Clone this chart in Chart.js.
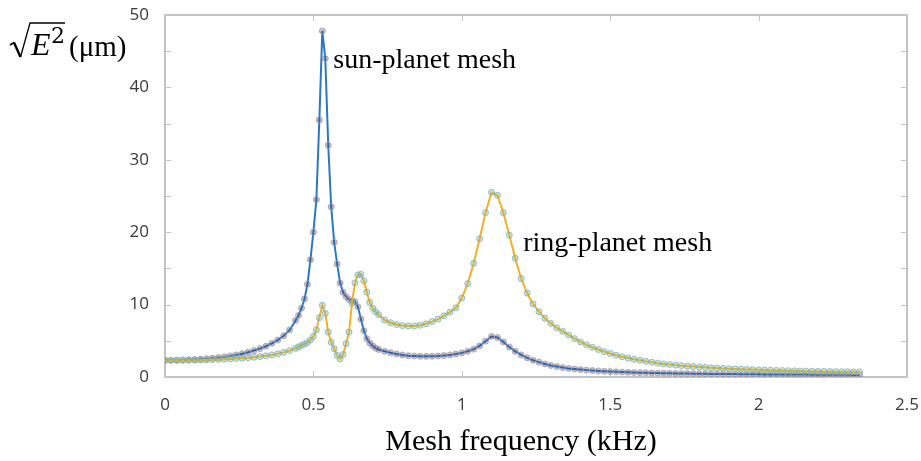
<!DOCTYPE html>
<html>
<head>
<meta charset="utf-8">
<script src="https://cdn.jsdelivr.net/npm/chart.js@4/dist/chart.umd.min.js"></script>
<style>
  html, body { margin: 0; padding: 0; background: #fff; }
  #wrap { width: 921px; height: 461px; position: relative; }
</style>
</head>
<body>
<div id="wrap"><canvas id="c"></canvas></div>
<script>
// frequenze (kHz): passo 0.02, più fitto (0.01) attorno ai picchi stretti
const freq = [
  0, 0.02, 0.04, 0.06, 0.08, 0.1, 0.12, 0.14, 0.16, 0.18, 0.2, 0.22, 0.24, 0.26, 0.28, 0.3, 0.32, 0.34, 0.36, 0.38, 0.4, 0.42, 0.44,
  0.45, 0.46, 0.47, 0.48, 0.49, 0.5, 0.51, 0.52, 0.53, 0.54, 0.55, 0.56, 0.57, 0.58, 0.59, 0.6, 0.61, 0.62, 0.63, 0.64, 0.65, 0.66, 0.67, 0.68, 0.69, 0.7, 0.71, 0.72,
  0.74, 0.76, 0.78, 0.8, 0.82, 0.84, 0.86, 0.88, 0.9, 0.92, 0.94, 0.96, 0.98, 1, 1.02, 1.04, 1.06, 1.08, 1.1, 1.12,
  1.14, 1.16, 1.18, 1.2, 1.22, 1.24, 1.26, 1.28, 1.3, 1.32, 1.34, 1.36, 1.38, 1.4, 1.42, 1.44, 1.46, 1.48, 1.5, 1.52,
  1.54, 1.56, 1.58, 1.6, 1.62, 1.64, 1.66, 1.68, 1.7, 1.72, 1.74, 1.76, 1.78, 1.8, 1.82, 1.84, 1.86, 1.88, 1.9, 1.92,
  1.94, 1.96, 1.98, 2, 2.02, 2.04, 2.06, 2.08, 2.1, 2.12, 2.14, 2.16, 2.18, 2.2, 2.22, 2.24, 2.26, 2.28, 2.3, 2.32, 2.34
];

// sun-planet mesh (µm)
const sunPlanet = [
  2.3, 2.3, 2.32, 2.35, 2.38, 2.42, 2.47, 2.53, 2.6, 2.68, 2.78, 2.9, 3.05, 3.22, 3.42, 3.65, 3.92, 4.25, 4.65, 5.1, 5.7, 6.5, 7.8,
  8.5, 9.5, 10.8, 12.8, 16.2, 20.0, 24.5, 35.5, 47.8, 44.0, 32.0, 23.5, 18.6, 15.6, 13.0, 11.7, 11.1, 10.7, 10.5, 10.4, 9.7, 8.0, 6.4, 5.3, 4.7, 4.3, 4.0, 3.8,
  3.55, 3.35, 3.18, 3.05, 2.95, 2.9, 2.86, 2.85, 2.86, 2.9, 2.96, 3.05, 3.17, 3.33, 3.55, 3.85, 4.3, 4.95, 5.6, 5.45,
  4.85, 4.15, 3.55, 3.05, 2.65, 2.32, 2.05, 1.8, 1.6, 1.44, 1.3, 1.19, 1.1, 1.02, 0.95, 0.89, 0.84, 0.79, 0.75, 0.71,
  0.68, 0.65, 0.62, 0.6, 0.58, 0.56, 0.54, 0.52, 0.51, 0.49, 0.48, 0.47, 0.46, 0.45, 0.44, 0.43, 0.42, 0.41, 0.4, 0.4,
  0.39, 0.38, 0.38, 0.37, 0.36, 0.36, 0.35, 0.35, 0.34, 0.34, 0.33, 0.33, 0.32, 0.32, 0.31, 0.31, 0.3, 0.3, 0.3, 0.29, 0.29
];

// ring-planet mesh (µm)
const ringPlanet = [
  2.3, 2.3, 2.3, 2.31, 2.32, 2.33, 2.35, 2.37, 2.4, 2.43, 2.46, 2.5, 2.55, 2.6, 2.66, 2.73, 2.82, 2.92, 3.05, 3.2, 3.4, 3.65, 3.95,
  4.15, 4.35, 4.55, 4.75, 5.1, 5.6, 6.5, 8.2, 9.9, 8.8, 6.2, 4.8, 3.9, 3.0, 2.5, 3.1, 4.6, 6.2, 10.2, 13.0, 14.1, 14.2, 13.3, 11.7, 10.3, 9.5, 9.0, 8.6,
  7.85, 7.5, 7.25, 7.1, 7.05, 7.05, 7.15, 7.35, 7.65, 8.0, 8.45, 8.95, 9.55, 10.9, 12.9, 15.7, 19.1, 22.7, 25.5, 25.1,
  22.7, 19.6, 16.4, 13.6, 11.6, 10.1, 9.0, 8.1, 7.4, 6.8, 6.3, 5.8, 5.3, 4.85, 4.45, 4.1, 3.8, 3.5, 3.25, 3.0,
  2.8, 2.62, 2.45, 2.3, 2.16, 2.03, 1.91, 1.81, 1.72, 1.64, 1.57, 1.5, 1.44, 1.38, 1.33, 1.28, 1.23, 1.19, 1.15, 1.11,
  1.08, 1.05, 1.02, 0.99, 0.96, 0.94, 0.91, 0.89, 0.87, 0.85, 0.83, 0.81, 0.8, 0.78, 0.77, 0.75, 0.74, 0.73, 0.72, 0.71, 0.7
];

const xTicks = [0, 0.5, 1, 1.5, 2, 2.5];
const yLabels = [0, 10, 20, 30, 40, 50];

if (sunPlanet.length !== freq.length || ringPlanet.length !== freq.length) {
  console.error('lunghezze diverse', freq.length, sunPlanet.length, ringPlanet.length);
}

const pts = (ys) => freq.map((f, i) => ({ x: f, y: ys[i] }));

const GRAY = '#c3c3c3';
const SERIF = '"Liberation Serif", "Times New Roman", serif';

// cornice a scatola con tacche verso l'interno (stile Excel)
const boxPlugin = {
  id: 'box',
  beforeDatasetsDraw(chart) {
    const { ctx, chartArea: a, scales: { x, y } } = chart;
    ctx.save();
    ctx.strokeStyle = GRAY;
    ctx.lineWidth = 2;
    ctx.strokeRect(a.left, a.top, a.right - a.left, a.bottom - a.top);
    ctx.lineWidth = 1;
    ctx.beginPath();
    xTicks.slice(1, -1).forEach(v => {
      const px = Math.round(x.getPixelForValue(v)) + 0.5;
      ctx.moveTo(px, a.bottom); ctx.lineTo(px, a.bottom - 6);
      ctx.moveTo(px, a.top); ctx.lineTo(px, a.top + 6);
    });
    for (let v = 5; v < 50; v += 5) {
      const py = Math.round(y.getPixelForValue(v)) + 0.5;
      ctx.moveTo(a.left, py); ctx.lineTo(a.left + 6, py);
      ctx.moveTo(a.right, py); ctx.lineTo(a.right - 6, py);
    }
    ctx.stroke();
    ctx.restore();
  },
  afterDraw(chart) {
    const { ctx, scales: { x, y } } = chart;
    ctx.save();
    ctx.fillStyle = '#000';
    ctx.textBaseline = 'alphabetic';

    // titolo asse x
    ctx.font = `30px ${SERIF}`;
    ctx.textAlign = 'center';
    ctx.fillText('Mesh frequency (kHz)', 521, 450);

    // etichette delle curve
    ctx.textAlign = 'left';
    ctx.font = `28px ${SERIF}`;
    ctx.fillText('sun-planet mesh', x.getPixelForValue(0.567), y.getPixelForValue(42.7));
    ctx.fillText('ring-planet mesh', x.getPixelForValue(1.207), y.getPixelForValue(17.4));

    // titolo asse y: radice di E^2 con sopralineatura, poi (µm)
    ctx.strokeStyle = '#000';
    ctx.lineWidth = 1.6;
    ctx.beginPath();
    ctx.moveTo(10, 45); ctx.lineTo(14, 42.5);
    ctx.stroke();
    ctx.lineWidth = 2.4;
    ctx.beginPath();
    ctx.moveTo(14, 42.5); ctx.lineTo(20.5, 57);
    ctx.stroke();
    ctx.lineWidth = 1.3;
    ctx.beginPath();
    ctx.moveTo(20.5, 57); ctx.lineTo(30, 23); ctx.lineTo(65, 23);
    ctx.stroke();
    ctx.font = `italic 32px ${SERIF}`;
    ctx.fillText('E', 31, 55);
    ctx.font = `22px "DejaVu Serif", serif`;
    ctx.fillText('2', 51, 43);
    ctx.font = `29px ${SERIF}`;
    ctx.fillText('(\u03bcm)', 69, 56);
    ctx.restore();
  }
};

new Chart(document.getElementById('c'), {
  type: 'line',
  data: {
    datasets: [
      {
        label: 'ring-planet mesh',
        data: pts(ringPlanet),
        borderColor: '#f2b124',
        borderWidth: 2,
        pointRadius: 3,
        pointBorderWidth: 1,
        pointBorderColor: 'rgba(125,175,215,0.85)',
        pointBackgroundColor: 'rgba(150,190,80,0.35)',
        tension: 0
      },
      {
        label: 'sun-planet mesh',
        data: pts(sunPlanet),
        borderColor: '#2b78c2',
        borderWidth: 2,
        pointRadius: 3,
        pointBorderWidth: 1,
        pointBorderColor: 'rgba(175,150,160,0.8)',
        pointBackgroundColor: 'rgba(45,60,105,0.3)',
        tension: 0
      }
    ]
  },
  options: {
    responsive: true,
    maintainAspectRatio: false,
    animation: false,
    layout: { padding: { top: 15, right: 14, left: 0, bottom: 0 } },
    plugins: { legend: { display: false }, tooltip: { enabled: false } },
    scales: {
      x: {
        type: 'linear', min: 0, max: 2.5,
        afterFit: (s) => { s.height = 84; s.paddingLeft = 0; s.paddingRight = 0; },
        grid: { display: false, drawTicks: false },
        border: { display: false },
        ticks: {
          stepSize: 0.5, padding: 18, color: '#3a3a3a',
          font: { family: '"Open Sans", sans-serif', size: 17 },
          callback: (v) => String(v)
        }
      },
      y: {
        min: 0, max: 50,
        afterFit: (s) => { s.width = 165; s.paddingTop = 0; s.paddingBottom = 0; },
        grid: { display: false, drawTicks: false },
        border: { display: false },
        ticks: {
          stepSize: 5, padding: 16, color: '#3a3a3a',
          font: { family: '"Open Sans", sans-serif', size: 17 },
          callback: (v) => yLabels.includes(v) ? String(v) : ''
        }
      }
    }
  },
  plugins: [boxPlugin]
});
</script>
</body>
</html>
